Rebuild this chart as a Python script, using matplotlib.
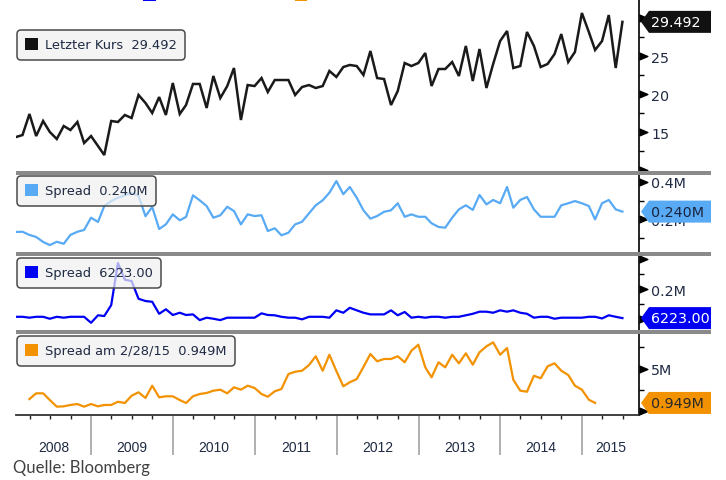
import matplotlib
matplotlib.use("Agg")
import matplotlib.dates as mdates
import matplotlib.pyplot as plt
import matplotlib.transforms as mtransforms
import pandas as pd
from matplotlib.patches import Patch, Polygon, Rectangle

W, H = 726, 481
INK = "#1f2a44"

# monthly closes, Jan 2008 - Jun 2015
months = pd.date_range("2008-01-31", periods=90, freq="ME")

letzter_kurs = [
    14.34, 14.60, 17.37, 14.47, 16.45, 15.00, 14.08, 15.79, 15.26, 16.32,
    13.55, 14.47, 13.16, 11.97, 16.45, 16.32, 17.24, 16.84, 19.87, 18.82,
    17.50, 19.60, 17.24, 21.45, 17.37, 18.55, 21.32, 21.32, 18.16, 22.37,
    19.47, 21.05, 23.42, 16.58, 21.18, 21.05, 22.10, 20.26, 21.84, 21.84,
    21.84, 19.87, 20.92, 21.18, 20.79, 21.05, 23.03, 22.24, 23.55, 23.82,
    23.68, 22.50, 25.66, 22.10, 21.97, 18.55, 20.39, 24.08, 23.68, 24.08,
    25.39, 21.05, 23.29, 23.29, 24.21, 22.37, 26.32, 21.71, 25.92, 20.79,
    23.95, 26.97, 28.29, 23.42, 23.68, 28.16, 26.32, 23.55, 23.95, 25.26,
    27.89, 24.21, 25.53, 30.66, 28.16, 25.79, 26.97, 30.39, 23.42, 29.492,
]

# spread in millions
spread_hell = [
    0.130, 0.131, 0.114, 0.103, 0.076, 0.059, 0.077, 0.066, 0.114, 0.131,
    0.141, 0.207, 0.184, 0.270, 0.297, 0.315, 0.328, 0.341, 0.326, 0.215,
    0.265, 0.146, 0.171, 0.225, 0.193, 0.211, 0.328, 0.301, 0.270, 0.207,
    0.220, 0.266, 0.243, 0.171, 0.225, 0.216, 0.220, 0.135, 0.150, 0.112,
    0.126, 0.171, 0.185, 0.231, 0.274, 0.301, 0.342, 0.405, 0.334, 0.373,
    0.315, 0.247, 0.202, 0.216, 0.239, 0.247, 0.285, 0.212, 0.225, 0.212,
    0.212, 0.177, 0.157, 0.153, 0.207, 0.252, 0.274, 0.249, 0.330, 0.279,
    0.303, 0.285, 0.373, 0.261, 0.303, 0.319, 0.252, 0.212, 0.212, 0.212,
    0.274, 0.285, 0.297, 0.285, 0.270, 0.198, 0.285, 0.303, 0.252, 0.240,
]

spread_blau = [
    0.015, 0.015, 0.009, 0.015, 0.015, 0.002, 0.015, 0.009, 0.015, 0.015,
    0.015, -0.025, 0.025, 0.020, 0.093, 0.373, 0.262, 0.253, 0.135, 0.120,
    0.115, 0.035, 0.065, 0.027, 0.042, 0.027, 0.031, -0.007, 0.009, 0.002,
    -0.007, 0.009, 0.009, 0.009, 0.009, 0.009, 0.038, 0.027, 0.025, 0.015,
    0.009, 0.009, -0.002, 0.015, 0.015, 0.015, 0.009, 0.058, 0.042, 0.075,
    0.058, 0.042, 0.031, 0.031, 0.031, 0.058, 0.025, 0.047, 0.009, 0.015,
    0.009, 0.015, 0.015, 0.009, 0.015, 0.015, 0.025, 0.035, 0.049, 0.049,
    0.042, 0.058, 0.049, 0.058, 0.042, 0.035, 0.009, 0.015, 0.015, 0.002,
    0.009, 0.009, 0.009, 0.009, 0.015, 0.015, 0.004, 0.025, 0.015, 0.006223,
]

# Mar 2008 - Feb 2015
orange_months = months[2:86]
spread_orange = [
    1.41, 2.08, 2.08, 1.29, 0.51, 0.55, 0.71, 0.82, 0.51, 0.82,
    0.55, 0.71, 0.71, 1.09, 0.94, 1.80, 2.20, 1.53, 2.98, 1.61,
    1.73, 1.73, 1.29, 0.94, 1.73, 2.00, 2.12, 2.39, 2.51, 2.08,
    2.79, 2.51, 2.98, 2.71, 2.00, 1.68, 2.32, 2.59, 4.35, 4.62,
    4.74, 5.41, 6.44, 4.74, 6.62, 4.71, 2.91, 3.38, 3.76, 5.18,
    6.71, 5.85, 6.12, 6.12, 6.44, 5.73, 7.09, 7.80, 5.14, 3.96,
    5.73, 5.14, 6.62, 5.61, 6.79, 5.45, 6.91, 7.61, 8.08, 6.62,
    7.41, 3.68, 2.39, 2.27, 4.15, 3.85, 5.26, 5.61, 4.74, 4.24,
    2.98, 2.51, 1.33, 0.949,
]

plt.rcParams["font.family"] = "DejaVu Sans"

fig = plt.figure(figsize=(W / 100, H / 100), dpi=100)
fig.patch.set_facecolor("white")


def fig_rect(x0, y0, x1, y1):
    return [x0 / W, 1 - y1 / H, (x1 - x0) / W, (y1 - y0) / H]


XMIN, XMAX = pd.Timestamp("2008-01-31"), pd.Timestamp("2015-09-12")
TRI = [(0, 0.42), (1, 0), (0, -0.42)]


def panel(box, ylim, majors, labels, arrows, minors):
    ax = fig.add_axes(fig_rect(*box))
    ax.set_xlim(XMIN, XMAX)
    ax.set_ylim(*ylim)
    for side in ("left", "top", "bottom"):
        ax.spines[side].set_visible(False)
    ax.spines["right"].set_color("black")
    ax.spines["right"].set_linewidth(1.2)
    ax.tick_params(axis="x", which="both", bottom=False, labelbottom=False)
    ax.yaxis.tick_right()
    ax.set_yticks(majors)
    ax.set_yticklabels(labels)
    ax.set_yticks(minors, minor=True)
    ax.tick_params(axis="y", which="major", length=0, pad=8.8, labelsize=10.3, labelcolor=INK)
    ax.tick_params(axis="y", which="minor", length=3.6, width=1, color="black", direction="out")
    ax.plot([1] * len(arrows), arrows, transform=ax.get_yaxis_transform(), marker=TRI, ms=12,
            ls="none", color="black", clip_on=False, zorder=4)
    return ax


def legend_box(ax, color, label, top_left):
    x, y = top_left
    leg = ax.legend(handles=[Patch(facecolor=color, edgecolor="none")], labels=[label],
                    loc="upper left", bbox_to_anchor=(x / W, 1 - y / H), bbox_transform=fig.transFigure,
                    borderaxespad=0, borderpad=0.62, handlelength=1.0, handleheight=1.0,
                    handletextpad=0.55, fontsize=9.4, fancybox=True, labelcolor=INK)
    frame = leg.get_frame()
    frame.set_alpha(None)
    frame.set_facecolor((0.94, 0.94, 0.94, 0.72))
    frame.set_edgecolor("#4a4a4a")
    frame.set_linewidth(1.1)
    frame.set_boxstyle("round", pad=0, rounding_size=0.3)
    leg.set_zorder(6)


def value_tag(ax, value, text, face, fg):
    trans = fig.dpi_scale_trans + mtransforms.ScaledTranslation(1, value, ax.get_yaxis_transform())
    p = 0.01
    verts = [(2 * p, 0), (10 * p, 11 * p), (80 * p, 11 * p), (80 * p, -11 * p), (10 * p, -11 * p)]
    ax.add_patch(Polygon(verts, closed=True, transform=trans, facecolor=face, edgecolor="none",
                         clip_on=False, zorder=10))
    ax.text(12 * p, 0, text, transform=trans, ha="left", va="center", fontsize=10.3, color=fg,
            clip_on=False, zorder=11)


ax1 = panel((16, 0, 639, 172), (9.87, 32.5), [15, 20, 25], ["15", "20", "25"],
            [10, 15, 20, 25, 30], [12.5, 17.5, 22.5, 27.5])
ax1.plot(months, letzter_kurs, color="#1a1a1a", lw=1.8, solid_joinstyle="miter")
legend_box(ax1, "#111111", "Letzter Kurs  29.492", (16.7, 31))
value_tag(ax1, letzter_kurs[-1], "29.492", "#111111", "white")

ax2 = panel((16, 175.5, 639, 253.5), (0.019, 0.4405), [0.2, 0.4], ["0.2M", "0.4M"],
            [0.2, 0.4], [0.1, 0.3])
ax2.plot(months, spread_hell, color="#58aaf4", lw=1.6)
legend_box(ax2, "#58aaf4", "Spread  0.240M", (16.7, 177))
value_tag(ax2, spread_hell[-1], "0.240M", "#58aaf4", "#1a2540")

ax3 = panel((16, 257, 639, 331), (-0.073, 0.42), [0.2], ["0.2M"], [0, 0.2, 0.4], [0.1, 0.3])
ax3.plot(months, spread_blau, color="#0000f5", lw=1.6)
legend_box(ax3, "#0000f5", "Spread  6223.00", (16.7, 259))
value_tag(ax3, spread_blau[-1], "6223.00", "#0000f5", "white")

ax4 = panel((16, 334.5, 639, 416), (-0.47, 9.12), [5], ["5M"], [0, 5], [2.5, 7.5])
ax4.plot(orange_months, spread_orange, color="#f39200", lw=1.6)
legend_box(ax4, "#f39200", "Spread am 2/28/15  0.949M", (16.7, 337))
value_tag(ax4, spread_orange[-1], "0.949M", "#f39200", "#2a2a2a")

# time axis: quarterly ticks, long grey year dividers, year names centred in each span
ax4.spines["bottom"].set_visible(True)
ax4.spines["bottom"].set_color("#333333")
ax4.spines["bottom"].set_linewidth(1.3)
ax4.xaxis.set_major_locator(mdates.YearLocator())
ax4.xaxis.set_minor_locator(mdates.MonthLocator(bymonth=[1, 4, 7, 10]))
ax4.tick_params(axis="x", which="major", bottom=True, length=29, width=1.1, color="#9a9a9a",
                labelbottom=False)
ax4.tick_params(axis="x", which="minor", bottom=True, length=2.8, width=1, color="#222222")
lo, hi = mdates.date2num(XMIN), mdates.date2num(XMAX)
for year in range(2008, 2016):
    a = max(mdates.date2num(pd.Timestamp(f"{year}-01-01")), lo)
    b = min(mdates.date2num(pd.Timestamp(f"{year + 1}-01-01")), hi)
    ax4.text((a + b) / 2, -32 / 81.5, str(year), transform=ax4.get_xaxis_transform(),
             ha="center", va="center", fontsize=10, family="Liberation Sans", color=INK)

# grey panel separators
for y0, y1 in [(171.5, 175.5), (253.3, 257.3), (330.8, 334.8)]:
    fig.patches.append(Rectangle((16 / W, 1 - y1 / H), (711 - 16) / W, (y1 - y0) / H,
                                 transform=fig.transFigure, facecolor="#8a8a8a", edgecolor="none",
                                 zorder=5))

# cut-off legend swatches at the very top
for x0, x1, c in [(143, 156, "#0000f5"), (295, 307, "#f39200")]:
    fig.patches.append(Rectangle((x0 / W, 1 - 1.5 / H), (x1 - x0) / W, 1.5 / H,
                                 transform=fig.transFigure, facecolor=c, edgecolor="none", zorder=5))

# the original export is cropped at x=711
fig.patches.append(Rectangle((711 / W, 0), 1, 1, transform=fig.transFigure, facecolor="white",
                             edgecolor="none", zorder=20))

fig.text(13 / W, 1 - 468 / H, "Quelle: Bloomberg", ha="left", va="center", fontsize=12,
         family="Lato", color="#404040")

fig.savefig("out.png", dpi=100)
